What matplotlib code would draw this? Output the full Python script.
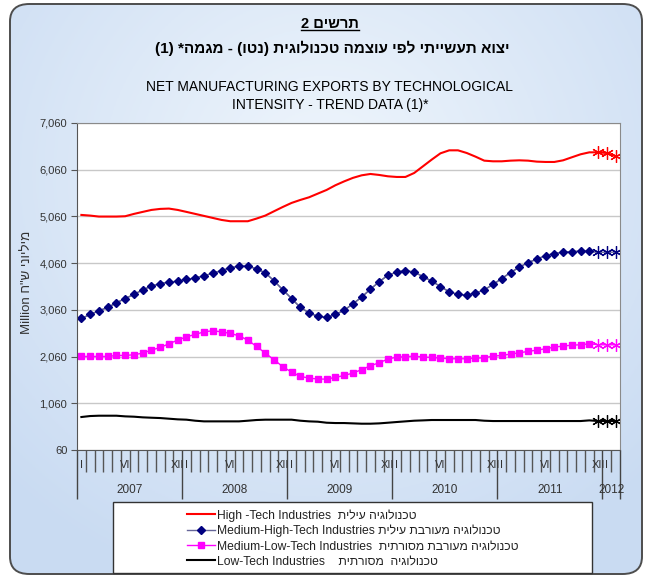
import numpy as np
import matplotlib
matplotlib.use("Agg")
from matplotlib import pyplot as plt
from matplotlib.patches import FancyBboxPatch, Rectangle
from matplotlib.lines import Line2D
import matplotlib.transforms as mtransforms

plt.rcParams['font.family'] = ['Liberation Sans', 'DejaVu Sans']

# monthly categories Jan 2007 .. Feb 2012, last 3 are provisional (asterisk)
years = ['2007', '2008', '2009', '2010', '2011', '2012']
month_marks = {0: 'I', 5: 'VI', 11: 'XII'}
n_months = 62
n_provisional = 3

high_tech = [5092, 5078, 5057, 5057, 5057, 5064, 5114, 5157, 5199, 5221, 5228, 5199,
             5157, 5114, 5071, 5028, 4985, 4957, 4957, 4957, 5014, 5078, 5171, 5263,
             5349, 5413, 5470, 5549, 5627, 5727, 5810, 5885, 5940, 5969, 5948, 5919,
             5905, 5905, 5990, 6133, 6276, 6411, 6475, 6475, 6418, 6340, 6254, 6240,
             6240, 6254, 6261, 6254, 6233, 6226, 6226, 6261, 6326, 6390, 6432, 6432,
             6418, 6347]
med_high = [2876, 2961, 3040, 3111, 3211, 3303, 3389, 3489, 3567, 3624, 3653, 3674,
            3710, 3745, 3788, 3845, 3902, 3959, 3995, 3995, 3938, 3852, 3681, 3489,
            3303, 3111, 2997, 2918, 2897, 2961, 3050, 3189, 3332, 3503, 3660, 3802,
            3866, 3902, 3866, 3774, 3674, 3560, 3446, 3389, 3375, 3417, 3489, 3603,
            3731, 3859, 3973, 4073, 4144, 4223, 4266, 4294, 4308, 4315, 4315, 4294,
            4294, 4294]
med_low = [2063, 2063, 2063, 2063, 2084, 2084, 2099, 2134, 2198, 2255, 2334, 2412,
           2484, 2533, 2590, 2612, 2590, 2555, 2505, 2412, 2277, 2134, 1992, 1842,
           1728, 1635, 1600, 1578, 1578, 1614, 1655, 1707, 1780, 1863, 1928, 2006,
           2049, 2056, 2070, 2049, 2042, 2027, 2013, 2013, 2013, 2027, 2034, 2070,
           2084, 2113, 2141, 2170, 2198, 2227, 2263, 2284, 2305, 2312, 2334, 2312,
           2312, 2312]
low_tech = [766, 787, 794, 794, 794, 780, 773, 759, 751, 744, 730, 716,
            709, 687, 673, 673, 673, 673, 673, 687, 702, 709, 709, 709,
            709, 687, 673, 666, 644, 637, 637, 630, 623, 623, 630, 644,
            659, 673, 687, 694, 702, 702, 702, 702, 702, 702, 687, 680,
            680, 680, 680, 680, 680, 680, 680, 680, 680, 680, 694, 680,
            680, 680]

y_ticks = list(range(60, 7061, 1000))

mirror = str.maketrans('()', ')(')


def heb(s):
    # matplotlib has no bidi support, so put hebrew into visual order
    return s[::-1].translate(mirror)


labels = [
    'High -Tech Industries  ' + heb('טכנולוגיה עילית'),
    'Medium-High-Tech Industries ' + heb('טכנולוגיה מעורבת עילית'),
    'Medium-Low-Tech Industries  ' + heb('טכנולוגיה מעורבת מסורתית'),
    'Low-Tech Industries    ' + heb('טכנולוגיה  מסורתית'),
]

W, H = 647, 577
fig = plt.figure(figsize=(W / 100, H / 100), dpi=100)

# rounded frame with a soft blue gradient
frame = FancyBboxPatch((10 / W, 3 / H), 632 / W, 570 / H,
                       boxstyle="round,pad=0,rounding_size=0.03",
                       transform=fig.transFigure, facecolor='none',
                       edgecolor='#4d4d4d', linewidth=1.4, zorder=2)
bg = fig.add_axes([0, 0, 1, 1], zorder=0)
bg.set_axis_off()
yy, xx = np.mgrid[0:1:200j, 0:1:200j]
r = np.sqrt(((xx - 0.5) / 0.7) ** 2 + ((yy - 0.3) / 0.75) ** 2)
r = np.clip(r, 0, 1)
c_in = np.array([0.94, 0.965, 0.99])
c_out = np.array([0.79, 0.86, 0.95])
img = c_in[None, None, :] * (1 - r[..., None]) + c_out[None, None, :] * r[..., None]
im = bg.imshow(img, extent=[0, 1, 0, 1], aspect='auto', transform=bg.transAxes)
clip = FancyBboxPatch((10 / W, 3 / H), 632 / W, 570 / H,
                      boxstyle="round,pad=0,rounding_size=0.03",
                      transform=fig.transFigure)
im.set_clip_path(clip)
bg.set_xlim(0, 1)
bg.set_ylim(0, 1)
fig.add_artist(frame)

# plot area
ax_l, ax_r, ax_t, ax_b = 77, 620, 123, 450
ax = fig.add_axes([ax_l / W, 1 - ax_b / H, (ax_r - ax_l) / W, (ax_b - ax_t) / H], zorder=1)
ax.set_facecolor('white')
x = np.arange(n_months)
p = n_months - n_provisional
star = (6, 2, 0)

l1, = ax.plot(x, high_tech, color='#ff0000', lw=1.5)
ax.plot(x[p:], high_tech[p:], ls='none', marker=star, ms=9, mec='#ff0000', mew=0.9)

ax.plot(x, med_high, color='#666699', lw=1.0)
l2, = ax.plot(x[:p + 1], med_high[:p + 1], color='#666699', lw=1.0, marker='D', ms=4.3,
              mfc='#000080', mec='#000080', markevery=list(range(p)))
ax.plot(x[p:], med_high[p:], ls='none', marker=star, ms=9, mec='#000080', mew=0.9)

l3, = ax.plot(x, med_low, color='#ff00ff', lw=1.0, marker='s', ms=3.8,
              mfc='#ff00ff', mec='#ff00ff', markevery=list(range(p)))
ax.plot(x[p:], med_low[p:], ls='none', marker=star, ms=9, mec='#ff00ff', mew=0.9)

l4, = ax.plot(x, low_tech, color='#000000', lw=1.5)
ax.plot(x[p:], low_tech[p:], ls='none', marker=star, ms=9, mec='#000000', mew=0.9)

ax.set_xlim(-0.5, n_months - 0.5)
ax.set_ylim(y_ticks[0], y_ticks[-1])
ax.set_yticks(y_ticks)
ax.set_yticklabels([f'{v:,}' for v in y_ticks], fontsize=8, color='#333333')
ax.yaxis.grid(True, color='#c8c8c8', lw=1)
ax.set_axisbelow(True)
ax.tick_params(axis='y', length=4, color='#555555', pad=3)
for s in ['top', 'right']:
    ax.spines[s].set_color('#8a8a8a')
for s in ['left', 'bottom']:
    ax.spines[s].set_color('#555555')

# category axis: tick between months, long ticks between years
bounds = np.arange(-0.5, n_months, 1.0)
year_bounds = [b for b in bounds if (b + 0.5) % 12 == 0] + [n_months - 0.5]
month_bounds = [b for b in bounds if b not in year_bounds]
ax.set_xticks(year_bounds)
ax.set_xticks(month_bounds, minor=True)
ax.set_xticklabels([])
ax.tick_params(axis='x', which='major', length=35, color='#444444', width=1)
ax.tick_params(axis='x', which='minor', length=16, color='#555555', width=1)

trans = mtransforms.blended_transform_factory(ax.transData, ax.transAxes)
h_ax = ax_b - ax_t
for i in range(n_months):
    m = i % 12
    if m in month_marks:
        ax.text(i, -15 / h_ax, month_marks[m], transform=trans, ha='center', va='center',
                fontsize=8, color='#333333')
for k, yr in enumerate(years):
    start = k * 12 - 0.5
    end = min(start + 12, n_months - 0.5)
    ax.text((start + end) / 2, -40 / h_ax, yr, transform=trans,
            ha='center', va='center', fontsize=8.5, color='#333333')

# y label
fig.text(27 / W, 1 - 282 / H, 'Million ' + heb('מיליוני ש"ח'), rotation=90,
         ha='center', va='center', fontsize=9.5, color='#333333')

# titles
t1 = fig.text(330 / W, 1 - 24 / H, heb('תרשים 2'), ha='center', va='center',
              fontsize=10.5, fontweight='bold')
fig.text(332 / W, 1 - 48 / H, heb('יצוא תעשייתי לפי עוצמה טכנולוגית (נטו) - מגמה* (1)'),
         ha='center', va='center', fontsize=11, fontweight='bold')
fig.text(330 / W, 1 - 87 / H, 'NET MANUFACTURING EXPORTS BY TECHNOLOGICAL',
         ha='center', va='center', fontsize=10)
fig.text(330 / W, 1 - 105 / H, 'INTENSITY - TREND DATA (1)*',
         ha='center', va='center', fontsize=10)

fig.canvas.draw()
bb = t1.get_window_extent(fig.canvas.get_renderer()).transformed(fig.transFigure.inverted())
fig.add_artist(Line2D([bb.x0, bb.x1], [bb.y0 + 0.001, bb.y0 + 0.001],
                      transform=fig.transFigure, color='black', lw=1))

# legend
fig.add_artist(Rectangle((113 / W, 1 - 573 / H), (592 - 113) / W, (573 - 502) / H,
                         transform=fig.transFigure, facecolor='white',
                         edgecolor='#333333', lw=1, zorder=3))
leg = fig.legend([l1, l2, l3, l4], labels, loc='upper left',
                 bbox_to_anchor=(178 / W, 1 - 500 / H), frameon=False,
                 fontsize=8.7, handlelength=2.3, handletextpad=0.2, labelspacing=0.25,
                 borderpad=0.25, markerscale=1.0)
leg.set_zorder(4)
for t in leg.get_texts():
    t.set_color('#222222')

fig.savefig('out.png', dpi=100)
